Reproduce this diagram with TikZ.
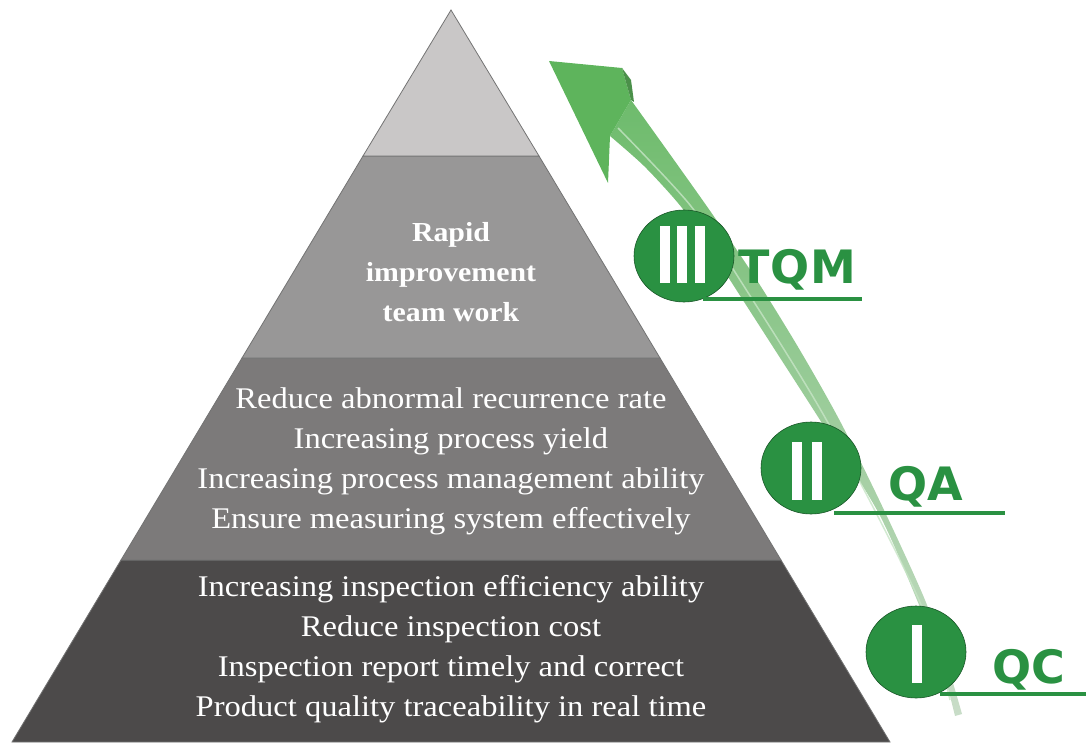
\documentclass[tikz,border=0pt]{standalone}
\usepackage{xcolor}
\usepackage{fontspec}
\setmainfont[FakeStretch=1.085]{Liberation Serif}
\newfontfamily\stagefont{DejaVu Sans}
\usepackage{tikz}
\usetikzlibrary{shapes.geometric}

\definecolor{layertop}{RGB}{201,199,199}
\definecolor{layertwo}{RGB}{152,151,151}
\definecolor{layerthree}{RGB}{124,122,122}
\definecolor{layerbase}{RGB}{76,74,74}
\definecolor{stagegreen}{RGB}{42,145,66}
\definecolor{arrowgreen}{RGB}{94,180,92}

\begin{document}
\begin{tikzpicture}[x=1pt, y=-1pt,
    layer/.style={draw=black!55, line width=.8pt},
    layertext/.style={text=white, align=center, font=\fontsize{30}{40}\selectfont},
    stagedisc/.style={ellipse, fill=stagegreen, draw=stagegreen!60!black, line width=.6pt,
                      minimum width=100pt, minimum height=92pt, inner sep=0pt},
    stagebar/.style={fill=white},
    stagelabel/.style={text=stagegreen, anchor=base west, inner sep=0pt,
                       font=\stagefont\bfseries\fontsize{46}{46}\selectfont},
    stagerule/.style={draw=stagegreen, line width=4pt}]
             \useasboundingbox (0,0) rectangle (1086,746);

             % pyramid layers
             \fill[layerbase, layer] (121,560) -- (781,560) -- (890,742) -- (12,742) -- cycle;
             \fill[layerthree, layer] (242,358) -- (660,358) -- (781,560) -- (121,560) -- cycle;
             \fill[layertwo, layer] (363,156) -- (539,156) -- (660,358) -- (242,358) -- cycle;
             \fill[layertop, layer] (451,10) -- (539,156) -- (363,156) -- cycle;

             \node[layertext, font=\bfseries\fontsize{27.5}{40}\selectfont] (rapid) at (451,272)
                  {Rapid\\improvement\\team work};
             \node[layertext] (qa text) at (451,461)
                  {Reduce abnormal recurrence rate\\Increasing process yield\\
                   Increasing process management ability\\Ensure measuring system effectively};
             \node[layertext] (qc text) at (451,649)
                  {Increasing inspection efficiency ability\\Reduce inspection cost\\
                   Inspection report timely and correct\\Product quality traceability in real time};

             % rising arrow
             \shade[top color=arrowgreen, middle color=arrowgreen!65!white!90!gray,
                    bottom color=arrowgreen!30!white!85!gray, opacity=.9]
                  plot[smooth] coordinates {(631,100) (674,160) (715,218) (758,282) (801,352)
                                            (841,423) (884,510) (925,600) (946,660) (962,714)}
                  -- plot[smooth] coordinates {(955,716) (940,660) (917,600) (878,512) (820,420)
                                               (775,350) (730,280) (700,233) (678,203) (644,166) (610,136)}
                  -- cycle;
             \draw[arrowgreen!35!white, line width=1.5pt, opacity=.8]
                  plot[smooth] coordinates {(618,128) (690,205) (740,280) (827,421) (919,600) (950,700)};
             \fill[arrowgreen] (549,61) -- (622,68) -- (631,100) -- (610,136) -- (608,183) -- cycle;
             \fill[arrowgreen!80!black] (622,68) -- (631,80) -- (634,102) -- (631,100) -- cycle;

             % stages
             \node[stagedisc] (stage3) at (684,256) {};
             \fill[stagebar] (660,226) rectangle (670,283);
             \fill[stagebar] (677,226) rectangle (687,283);
             \fill[stagebar] (695,226) rectangle (705,283);
             \draw[stagerule] (703,299) -- (862,299);
             \node[stagelabel] (tqm) at (738,283) {T\kern1ptQ\kern1ptM};

             \node[stagedisc] (stage2) at (811,468) {};
             \fill[stagebar] (792,442) rectangle (802,500);
             \fill[stagebar] (812,442) rectangle (822,500);
             \draw[stagerule] (834,513) -- (1005,513);
             \node[stagelabel] (qa) at (888,500) {QA};

             \node[stagedisc] (stage1) at (916,652) {};
             \fill[stagebar] (912,625) rectangle (922,683);
             \draw[stagerule] (940,694) -- (1086,694);
             \node[stagelabel] (qc) at (992,683) {QC};
\end{tikzpicture}
\end{document}
